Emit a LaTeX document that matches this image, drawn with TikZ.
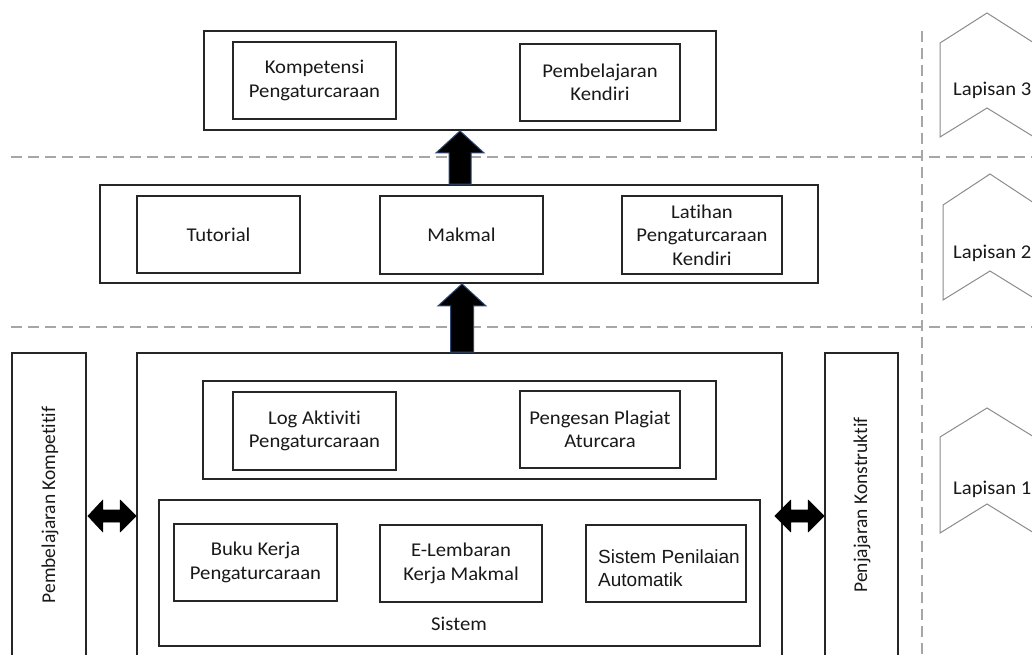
\documentclass[tikz,border=0pt]{standalone}
\usepackage{fontspec}
\setmainfont{Carlito}[FakeStretch=1.06, Ligatures=NoCommon]
\newfontfamily\vertf{Carlito}[Ligatures=NoCommon]
\newfontfamily\arialf{Liberation Sans}
\usetikzlibrary{calc}
\definecolor{boxline}{HTML}{262626}
\definecolor{dashgrey}{HTML}{A6A6A6}
\definecolor{lapgrey}{HTML}{8C8C8C}
\definecolor{arrowedge}{HTML}{2F4A78}
\begin{document}
\begin{tikzpicture}[x=1pt,y=-1pt,
  every node/.style={font=\fontsize{19.5}{23.5}\selectfont, text=black!90},
  box/.style={draw=boxline, line width=1.8pt, inner sep=0pt, align=center},
  vtext/.style={rotate=90, inner sep=0pt, font=\vertf\fontsize{19.5}{23.5}\selectfont},
  guide/.style={draw=dashgrey, line width=1.4pt, dash pattern=on 11pt off 6pt},
  lapis/.style={draw=lapgrey, line width=1pt, fill=white},
  barrow/.style={fill=black, draw=arrowedge, line width=1pt, line join=miter},
  darrow/.style={fill=black, draw=black, line width=0.6pt, line join=round}
]
\useasboundingbox (0,0) rectangle (1032,655);
\clip (0,0) rectangle (1032,655);
\fill[white] (0,0) rectangle (1032,655);

% guides
\coordinate (g1l) at (11,157); \coordinate (g1r) at (1032,157);
\coordinate (g2l) at (11,327); \coordinate (g2r) at (1032,327);
\coordinate (gvt) at (922,31); \coordinate (gvb) at (922,660);
\draw[guide] (g1l) -- (g1r);
\draw[guide] (g2l) -- (g2r);
\draw[guide] (gvt) -- (gvb);

% Lapisan 3
\node[box, minimum width=512pt, minimum height=99pt] (top) at (460,80.5) {};
\node[box, minimum width=163pt, minimum height=77pt] (komp3) at (314.5,80.5) {Kompetensi\\Pengaturcaraan};
\node[box, minimum width=160pt, minimum height=77pt] (pk3) at (600,82.5) {Pembelajaran\\Kendiri};

% Lapisan 2
\node[box, minimum width=718pt, minimum height=98pt] (mid) at (459,234) {};
\node[box, minimum width=163pt, minimum height=77pt] (tut) at (218.5,234.5) {Tutorial};
\node[box, minimum width=163pt, minimum height=78pt] (mak) at (461.5,235) {Makmal};
\node[box, minimum width=160pt, minimum height=78pt] (lat) at (702,235) {Latihan\\Pengaturcaraan\\Kendiri};

% Lapisan 1
\node[box, minimum width=645pt, minimum height=322pt] (big) at (459.5,514) {};
\node[box, minimum width=513pt, minimum height=98pt] (l1top) at (459.5,430) {};
\node[box, minimum width=163pt, minimum height=78pt] (log) at (314.5,431) {Log Aktiviti\\Pengaturcaraan};
\node[box, minimum width=160pt, minimum height=77pt] (pp) at (600,429.5) {Pengesan Plagiat\\Aturcara};
\node[box, minimum width=601pt, minimum height=146pt] (sis) at (459.5,573) {};
\node[box, minimum width=163pt, minimum height=77pt] (buku) at (255.5,562.5) {Buku Kerja\\Pengaturcaraan};
\node[box, minimum width=162pt, minimum height=77pt] (elem) at (461,563.5) {E-Lembaran\\Kerja Makmal};
\node[box, minimum width=160pt, minimum height=77pt] (spa) at (666,563.5) {};
\node[anchor=west, align=left, inner sep=0pt, font=\arialf\fontsize{19}{23.5}\selectfont] (spat) at (598,568) {Sistem Penilaian\\Automatik};
\node[inner sep=0pt] (sistl) at (459,624) {Sistem};

\node[box, minimum width=74pt, minimum height=322pt] (komp) at (49,514) {};
\node[vtext] (kompt) at (50,505) {Pembelajaran Kompetitif};
\node[box, minimum width=73pt, minimum height=322pt] (penj) at (861.5,514) {};
\node[vtext] (penjt) at (862,505) {Penjajaran Konstruktif};

% block arrows up
\draw[barrow] let \p1=(top.south), \p2=(mid.north) in
  (\x1,\y1) -- (\x1+24pt,\y1-22pt) -- (\x1+11pt,\y1-22pt) -- (\x1+11pt,\y2) --
  (\x1-11pt,\y2) -- (\x1-11pt,\y1-22pt) -- (\x1-24pt,\y1-22pt) -- cycle;
\coordinate (a2t) at ($(mid.south)+(3,0)$);
\draw[barrow] let \p1=(a2t), \p2=(big.north) in
  (\x1,\y1) -- (\x1+24pt,\y1-22pt) -- (\x1+11.5pt,\y1-22pt) -- (\x1+11.5pt,\y2) --
  (\x1-11.5pt,\y2) -- (\x1-11.5pt,\y1-22pt) -- (\x1-24pt,\y1-22pt) -- cycle;

% double arrows
\coordinate (dl1) at (komp.east |- 0,516);
\coordinate (dl2) at (big.west |- 0,516);
\draw[darrow] let \p1=(dl1), \p2=(dl2) in
  (\x1+1pt,\y1) -- (\x1+16pt,\y1+16pt) -- (\x1+16pt,\y1+6pt) -- (\x2-16pt,\y1+6pt) --
  (\x2-16pt,\y1+16pt) -- (\x2,\y1) -- (\x2-16pt,\y1-16pt) -- (\x2-16pt,\y1-6pt) --
  (\x1+16pt,\y1-6pt) -- (\x1+16pt,\y1-16pt) -- cycle;
\coordinate (dr1) at ($(big.east |- 0,516)+(-8,0)$);
\coordinate (dr2) at (penj.west |- 0,516);
\draw[darrow] let \p1=(dr1), \p2=(dr2) in
  (\x1,\y1) -- (\x1+16pt,\y1+16pt) -- (\x1+16pt,\y1+6pt) -- (\x2-16pt,\y1+6pt) --
  (\x2-16pt,\y1+16pt) -- (\x2,\y1) -- (\x2-16pt,\y1-16pt) -- (\x2-16pt,\y1-6pt) --
  (\x1+16pt,\y1-6pt) -- (\x1+16pt,\y1-16pt) -- cycle;

% Lapisan chevrons
\draw[lapis] (940,43) -- (987,13) -- (1034,43) -- (1034,137) -- (987,108) -- (940,137) -- cycle;
\node[anchor=west, inner sep=0pt] (lap3) at (953,90) {Lapisan 3};
\draw[lapis] (943,205) -- (990,174) -- (1037,205) -- (1037,300) -- (990,271) -- (943,300) -- cycle;
\node[anchor=west, inner sep=0pt] (lap2) at (953,253) {Lapisan 2};
\draw[lapis] (940,437) -- (987,408) -- (1034,437) -- (1034,533) -- (987,504) -- (940,533) -- cycle;
\node[anchor=west, inner sep=0pt] (lap1) at (953,489) {Lapisan 1};
\end{tikzpicture}
\end{document}
